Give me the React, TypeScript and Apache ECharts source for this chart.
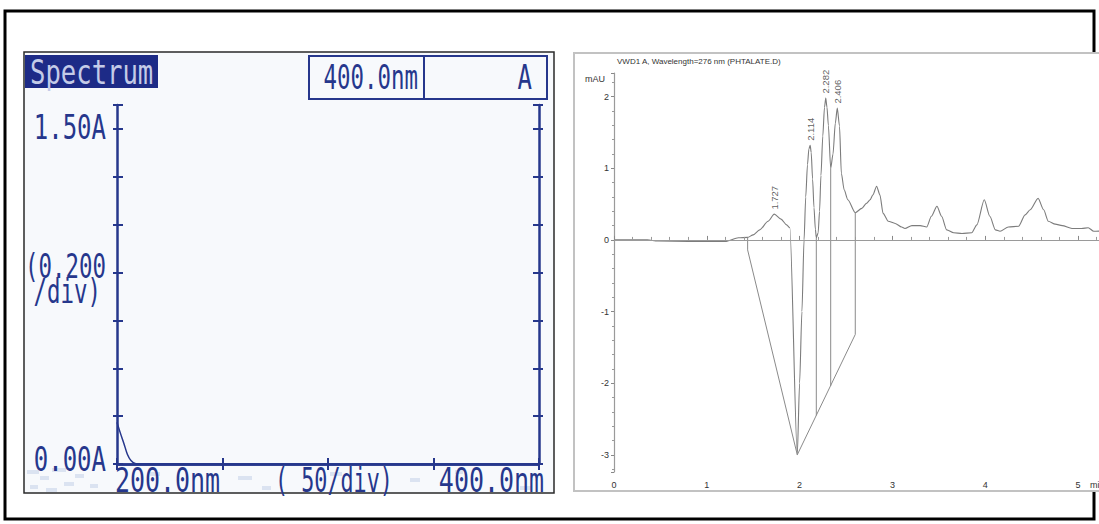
import React, { useEffect, useRef } from "react";
import * as echarts from "echarts";

// ---- Spectrum scan (left panel) ----
const spectrumNm = [200, 201.6, 203.3, 204.9, 206.6, 209, 400];
const spectrumAbs = [0.174, 0.129, 0.085, 0.041, 0.015, 0.001, 0];
const headerTexts = ["Spectrum", "400.0nm", "A"];
const leftAxisTexts = ["1.50A", "(0.200", "/div)", "0.00A"];
const bottomAxisTexts = ["200.0nm", "( 50/div)", "400.0nm"];

// ---- Chromatogram (right panel) ----
const chromTitle = "VWD1 A, Wavelength=276 nm (PHTALATE.D)";
const chromUnit = "mAU";
const chromTimeUnit = "min";
const rtMin = [
  0, 0.36, 0.47, 0.8, 1.21, 1.34, 1.44, 1.5, 1.57, 1.66, 1.727, 1.8, 1.86, 1.895,
  1.975, 2.0, 2.025, 2.048, 2.066, 2.085, 2.1, 2.114, 2.125, 2.14, 2.155, 2.17, 2.18,
  2.2, 2.215, 2.23, 2.25, 2.268, 2.282, 2.295, 2.31, 2.335, 2.36, 2.385, 2.406, 2.43,
  2.45, 2.48, 2.52, 2.6, 2.67, 2.72, 2.76, 2.79, 2.83, 2.865, 2.9, 2.955, 3.03, 3.1,
  3.135, 3.21, 3.3, 3.37, 3.42, 3.48, 3.53, 3.585, 3.66, 3.75, 3.855, 3.91, 3.99,
  4.05, 4.11, 4.16, 4.25, 4.36, 4.43, 4.485, 4.57, 4.63, 4.68, 4.755, 4.83, 4.935,
  5.04, 5.11, 5.17, 5.3,
];
const signalMAU = [
  0, 0, -0.015, -0.02, -0.02, 0.03, 0.035, 0.07, 0.14, 0.26, 0.36, 0.29, 0.21, 0.17,
  -3.0, -2.0, -1.0, 0, 0.6, 1.05, 1.27, 1.32, 1.22, 0.85, 0.45, 0.15, 0.03,
  0.1, 0.4, 0.9, 1.45, 1.85, 1.98, 1.85, 1.6, 1.0, 1.2, 1.63, 1.84, 1.59,
  0.93, 0.7, 0.56, 0.38, 0.44, 0.51, 0.56, 0.63, 0.75, 0.63, 0.37, 0.26, 0.23, 0.18,
  0.16, 0.2, 0.2, 0.18, 0.33, 0.47, 0.33, 0.14, 0.1, 0.09, 0.1, 0.21, 0.56,
  0.33, 0.14, 0.12, 0.18, 0.19, 0.35, 0.42, 0.58, 0.42, 0.26, 0.22, 0.2, 0.16,
  0.16, 0.17, 0.12, 0.13,
];
const peakTimes = [1.727, 2.114, 2.282, 2.406];
const peakHeights = [0.36, 1.32, 1.98, 1.84];
// integration baselines and drop lines
const baselineFront = [[1.44, 0.035], [1.44, -0.14], [1.975, -3.0]];
const baselineBack = [[1.975, -3.0], [2.6, -1.32], [2.6, 0.38]];
const dropLineA = [[2.18, 0.03], [2.18, -2.45]];
const dropLineB = [[2.335, 1.0], [2.335, -2.04]];

// faint print speckle along the lower edge of the instrument screen
const speckleX = [27, 40, 52, 64, 30, 46, 75, 90, 150, 238, 262, 330, 410, 455, 520];
const speckleY = [470, 476, 468, 482, 485, 488, 474, 484, 472, 476, 486, 472, 478, 470, 486];
const speckleW = [12, 9, 14, 10, 8, 11, 9, 8, 10, 14, 9, 12, 10, 8, 11];

const NAVY = "#26378c";
const GRAY = "#7c7c7c";
const LCD_FONT = '32px "DejaVu Sans Mono", "Liberation Mono", monospace';

function lcdText(
  text: string,
  x: number,
  y: number,
  align: string,
  sx: number,
  fill: string = NAVY
) {
  return {
    type: "text",
    x,
    y,
    scaleX: sx,
    scaleY: 1.05,
    z: 20,
    style: {
      text,
      x: 0,
      y: 0,
      fill,
      font: LCD_FONT,
      align,
      verticalAlign: "middle",
      textAlign: align,
      textVerticalAlign: "middle",
    },
  };
}

function smallText(text: string, x: number, y: number, size: number, align = "left") {
  return {
    type: "text",
    x,
    y,
    z: 20,
    style: {
      text,
      x: 0,
      y: 0,
      fill: "#333",
      font: `${size}px "Liberation Sans", Arial, sans-serif`,
      align,
      verticalAlign: "middle",
      textAlign: align,
      textVerticalAlign: "middle",
    },
  };
}

const zip = (xs: number[], ys: number[]) => xs.map((x, i) => [x, ys[i]]);

function lcdAxis(position: string, inside: boolean, showLine: boolean, extra: any) {
  return {
    type: "value",
    gridIndex: 0,
    position,
    z: 10,
    axisLine: { show: showLine, lineStyle: { color: NAVY, width: 2.5 } },
    axisTick: { show: true, inside, length: inside ? 6 : 4, lineStyle: { color: NAVY, width: 2 } },
    axisLabel: { show: false },
    splitLine: { show: false },
    ...extra,
  };
}

export default function App() {
  const ref = useRef<HTMLDivElement>(null);

  useEffect(() => {
    if (!ref.current) return;
    const chart = echarts.init(ref.current, undefined, { renderer: "svg" });

    const xSpec = { min: 200, max: 400, interval: 50 };
    const ySpec = { min: 0, max: 1.5, interval: 0.2 };

    const speckles = speckleX.map((x, i) => ({
      type: "rect",
      z: -8,
      shape: { x, y: speckleY[i], width: speckleW[i], height: 4 },
      style: { fill: "#b9c8e4", opacity: 0.45 },
    }));

    const option: any = {
      animation: false,
      backgroundColor: "#ffffff",
      grid: [
        { left: 117, top: 105, width: 422, height: 359, outerBoundsMode: "none" },
        { left: 614, top: 73, width: 6 * 92.8, height: 399, outerBoundsMode: "none" },
      ],
      xAxis: [
        lcdAxis("bottom", true, true, xSpec),
        lcdAxis("top", true, true, xSpec),
        lcdAxis("bottom", false, false, xSpec),
        lcdAxis("top", false, false, xSpec),
        {
          type: "value",
          gridIndex: 1,
          min: 0,
          max: 6,
          interval: 1,
          position: "bottom",
          z: 10,
          axisLine: { show: true, lineStyle: { color: "#9a9a9a", width: 1.2 } },
          axisTick: { show: true, inside: true, length: 4, lineStyle: { color: "#888" } },
          minorTick: { show: true, splitNumber: 5, length: 3, lineStyle: { color: "#999" } },
          axisLabel: {
            show: true,
            margin: 8,
            color: "#333",
            fontSize: 9,
            fontFamily: '"Liberation Sans", Arial, sans-serif',
            showMaxLabel: false,
          },
          splitLine: { show: false },
        },
      ],
      yAxis: [
        lcdAxis("left", true, true, ySpec),
        lcdAxis("right", true, true, ySpec),
        lcdAxis("left", false, false, ySpec),
        lcdAxis("right", false, false, ySpec),
        {
          type: "value",
          gridIndex: 1,
          min: -3.24,
          max: 2.33,
          position: "left",
          z: 10,
          axisLine: { show: true, lineStyle: { color: "#9a9a9a", width: 1.2 } },
          axisTick: { show: true, inside: false, length: 3, lineStyle: { color: "#888" } },
          minorTick: { show: true, splitNumber: 5, length: 2, lineStyle: { color: "#999" } },
          axisLabel: {
            show: true,
            margin: 5,
            color: "#333",
            fontSize: 9,
            fontFamily: '"Liberation Sans", Arial, sans-serif',
            showMinLabel: false,
            showMaxLabel: false,
          },
          splitLine: { show: false },
        },
      ],
      series: [
        {
          type: "line",
          xAxisIndex: 0,
          yAxisIndex: 0,
          data: zip(spectrumNm, spectrumAbs),
          symbol: "none",
          smooth: 0.3,
          lineStyle: { color: NAVY, width: 1.5 },
          z: 5,
        },
        {
          type: "line",
          xAxisIndex: 4,
          yAxisIndex: 4,
          data: zip(rtMin, signalMAU),
          symbol: "none",
          smooth: 0.25,
          smoothMonotone: "x",
          lineStyle: { color: GRAY, width: 1.1 },
          z: 5,
        },
        ...[baselineFront, baselineBack, dropLineA, dropLineB].map((seg) => ({
          type: "line",
          xAxisIndex: 4,
          yAxisIndex: 4,
          data: seg,
          symbol: "none",
          lineStyle: { color: "#8a8a8a", width: 1 },
          z: 5,
        })),
        {
          type: "scatter",
          xAxisIndex: 4,
          yAxisIndex: 4,
          data: zip(peakTimes, peakHeights),
          symbolSize: 1,
          itemStyle: { color: "transparent" },
          z: 6,
          label: {
            show: true,
            position: "top",
            distance: 4,
            rotate: 90,
            align: "left",
            verticalAlign: "middle",
            color: "#333",
            fontSize: 9.5,
            fontFamily: '"Liberation Sans", Arial, sans-serif',
            formatter: (p: any) => p.value[0].toFixed(3),
          },
        },
      ],
      graphic: [
        // outer frame
        {
          type: "rect",
          z: -10,
          shape: { x: 5, y: 11, width: 1089, height: 508 },
          style: { fill: "none", stroke: "#000", lineWidth: 3 },
        },
        // left instrument screen
        {
          type: "rect",
          z: -9,
          shape: { x: 24, y: 52, width: 530, height: 441 },
          style: { fill: "#f7f9fc", stroke: "#2a2a2a", lineWidth: 1.5 },
        },
        ...speckles,
        // right chromatogram sheet
        {
          type: "rect",
          z: -9,
          shape: { x: 574, y: 53, width: 540, height: 438 },
          style: { fill: "#ffffff", stroke: "#c2c2c2", lineWidth: 2 },
        },
        // header boxes
        {
          type: "rect",
          z: 10,
          shape: { x: 25, y: 55, width: 133, height: 33 },
          style: { fill: "#1d2b87" },
        },
        {
          type: "rect",
          z: 10,
          shape: { x: 309, y: 56, width: 238, height: 43 },
          style: { fill: "none", stroke: NAVY, lineWidth: 2 },
        },
        {
          type: "line",
          z: 10,
          shape: { x1: 424, y1: 56, x2: 424, y2: 99 },
          style: { stroke: NAVY, lineWidth: 2 },
        },
        lcdText(headerTexts[0], 30, 72, "left", 0.8, "#c4cbe8"),
        lcdText(headerTexts[1], 418, 77, "right", 0.7),
        lcdText(headerTexts[2], 532, 77, "right", 0.75),
        lcdText(leftAxisTexts[0], 106, 127, "right", 0.75),
        lcdText(leftAxisTexts[1], 106, 266, "right", 0.7),
        lcdText(leftAxisTexts[2], 101, 291, "right", 0.7),
        lcdText(leftAxisTexts[3], 106, 459, "right", 0.75),
        lcdText(bottomAxisTexts[0], 115, 481, "left", 0.78),
        lcdText(bottomAxisTexts[1], 275, 481, "left", 0.68),
        lcdText(bottomAxisTexts[2], 544, 481, "right", 0.78),
        // chromatogram texts
        smallText(chromTitle, 617, 61, 8),
        smallText(chromUnit, 585, 79, 9),
        smallText(chromTimeUnit, 1090, 485, 9),
      ],
    };

    chart.setOption(option);
    return () => chart.dispose();
  }, []);

  return (
    <div
      ref={ref}
      style={{ position: "absolute", left: 0, top: 0, width: 1099, height: 524 }}
    />
  );
}
